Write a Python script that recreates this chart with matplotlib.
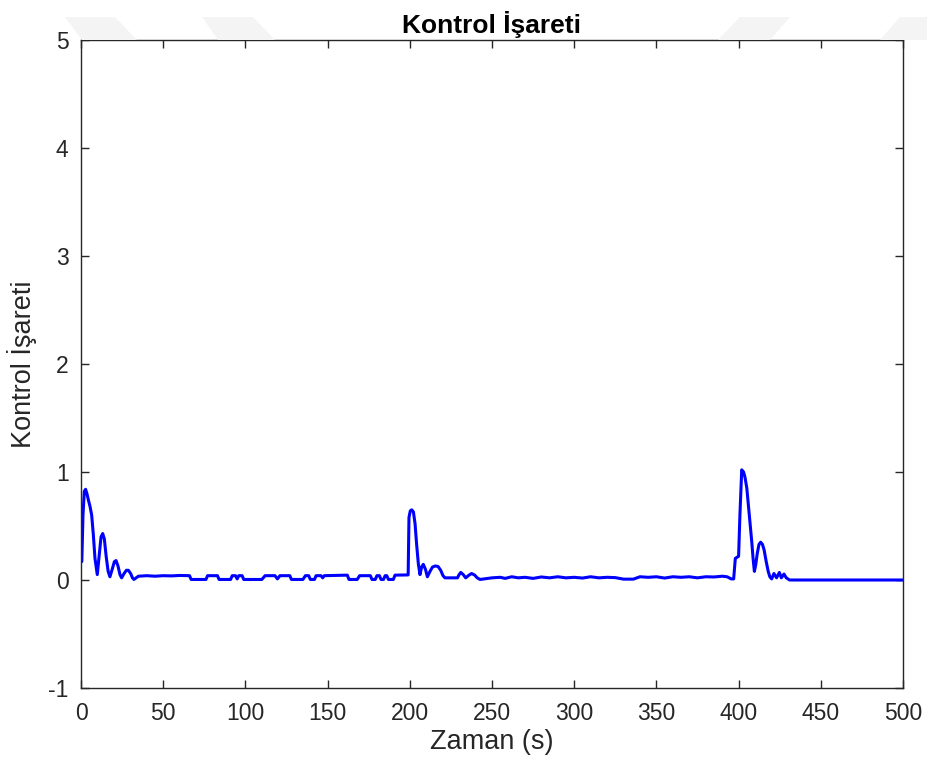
import matplotlib
matplotlib.use("Agg")
import matplotlib.pyplot as plt
from matplotlib.patches import Polygon

plt.rcParams['font.family'] = ['Liberation Sans', 'DejaVu Sans']
plt.rcParams['axes.unicode_minus'] = False

# Time (s) and control signal values
time_s = [0, 0.5, 1.2, 2.0, 2.8, 3.6, 4.5, 5.5, 6.5, 7.5, 8.5, 9.9, 11.0, 12.2, 13.2, 14.2, 15.3,
          16.5, 17.6, 19.0, 20.3, 21.3, 22.5, 23.7, 24.7, 26.2, 27.6, 28.8, 30.2, 31.3, 32.2,
          34.9, 40, 45, 50, 55, 60, 66, 67, 76, 77, 83, 84, 91, 92, 94, 95,
          96, 98, 99, 110, 112, 118, 119.5, 121, 127, 128, 135, 136.5, 138.5, 139.5, 142, 143, 146,
          147, 148, 162, 163, 168, 169.5, 176, 177, 179, 180, 181.5, 182.5, 184, 185, 186, 187, 190,
          191, 198, 199, 199.5, 200.3, 201.2, 202.2, 203.2, 204.2, 205.2, 206.2, 207.2, 208.2,
          209.5, 210.7, 212.3, 213.8, 215.5, 217.2, 218.8, 220.2, 221.4, 229, 230, 231, 232.5,
          234, 236, 237.6, 239.5, 241, 242.7, 245, 250, 255, 258,
          262, 266, 270, 275, 280, 285, 290, 295, 300, 305, 310, 315, 320, 325, 330, 336, 340, 345,
          350, 355, 360, 365, 370, 375, 380, 385, 390, 393, 395.5, 397, 398, 400, 400.8, 401.9,
          403.0, 403.9, 405.0, 406, 407.0, 408, 408.8, 409.6, 410.4, 411.4, 412.4, 413.4, 414.5,
          415.5, 416.8, 418, 419.0, 420.1, 421.5, 423.1, 424.8, 426, 427.6, 429, 431, 500]
control_signal = [0.17, 0.17, 0.6, 0.82, 0.84, 0.8, 0.74, 0.68, 0.6, 0.42, 0.2, 0.05, 0.22,
                  0.4, 0.43, 0.38, 0.22, 0.08, 0.03, 0.1, 0.17, 0.18, 0.13, 0.05, 0.02, 0.06,
                  0.09, 0.09, 0.06, 0.02, 0.005,
                  0.035, 0.04, 0.035, 0.04, 0.038, 0.042,
                  0.04, 0.005, 0.005, 0.04, 0.04, 0.005, 0.005, 0.04, 0.04, 0.01, 0.04, 0.04, 0.005,
                  0.005, 0.04, 0.04, 0.01, 0.04, 0.04, 0.005, 0.005, 0.04, 0.04, 0.005, 0.005, 0.04,
                  0.04, 0.02, 0.04, 0.045, 0.005, 0.005, 0.04, 0.04, 0.005, 0.005, 0.04, 0.04, 0.005,
                  0.005, 0.04, 0.04, 0.005, 0.005, 0.045, 0.047, 0.047, 0.58, 0.64, 0.65, 0.63, 0.52,
                  0.32, 0.15, 0.05, 0.12, 0.145, 0.1, 0.03, 0.08, 0.12, 0.13, 0.125, 0.09, 0.04,
                  0.02, 0.02, 0.05, 0.07, 0.05, 0.02, 0.045, 0.06, 0.045, 0.02, 0.005, 0.01, 0.02,
                  0.025, 0.015, 0.03, 0.02, 0.025, 0.015,
                  0.028, 0.02, 0.03, 0.02, 0.025, 0.018, 0.03, 0.02, 0.025, 0.022, 0.008, 0.008, 0.03,
                  0.025, 0.03, 0.018, 0.03, 0.025, 0.03, 0.02, 0.03, 0.028, 0.035, 0.03, 0.01, 0.01,
                  0.2, 0.22, 0.6, 1.02, 1.0, 0.95, 0.85, 0.69, 0.52, 0.355, 0.2, 0.08, 0.14, 0.25,
                  0.33, 0.35, 0.33, 0.28, 0.17, 0.08, 0.03, 0.01, 0.06, 0.02,
                  0.07, 0.02, 0.055, 0.02, 0.0, 0.0]

x_ticks = [0, 50, 100, 150, 200, 250, 300, 350, 400, 450, 500]
y_ticks = [-1, 0, 1, 2, 3, 4, 5]

title = "Kontrol İşareti"
x_label = "Zaman (s)"
y_label = "Kontrol İşareti"

W, H = 927, 772
fig = plt.figure(figsize=(W / 100, H / 100), dpi=100)

# very faint background watermark shapes (pixel coords, y from top)
wm_shapes = [
    [(65, 17), (115, 17), (137, 40), (82, 40)],
    [(202, 17), (253, 17), (275, 40), (218, 40)],
    [(740, 17), (790, 17), (770, 40), (718, 40)],
    [(900, 17), (927, 17), (927, 40), (880, 40)],
]
for shp in wm_shapes:
    pts = [(x / W, 1 - y / H) for x, y in shp]
    fig.patches.append(Polygon(pts, closed=True, transform=fig.transFigure,
                               facecolor='#f4f4f4', edgecolor='none', zorder=0))

ax = fig.add_axes([81 / W, 1 - 688 / H, (903 - 81) / W, (688 - 40) / H])
ax.set_facecolor('white')

ax.plot(time_s, control_signal, color='#0000ff', linewidth=2.2, solid_joinstyle='round')

ax.set_xlim(0, 500)
ax.set_ylim(-1, 5)
ax.set_xticks(x_ticks)
ax.set_yticks(y_ticks)

axcol = '#262626'
for s in ax.spines.values():
    s.set_color(axcol)
    s.set_linewidth(1.0)
ax.tick_params(direction='in', length=6, width=1.0, colors=axcol, labelsize=16.5,
               top=True, right=True, labelcolor=axcol)
ax.tick_params(axis='x', pad=10)
ax.tick_params(axis='y', pad=9)

ax.set_title(title, fontsize=19, fontweight='bold', color='black', pad=5)
ax.set_xlabel(x_label, fontsize=19.5, color=axcol, labelpad=3)
ax.set_ylabel(y_label, fontsize=19.5, color=axcol, labelpad=8)

fig.savefig("out.png", dpi=100)
